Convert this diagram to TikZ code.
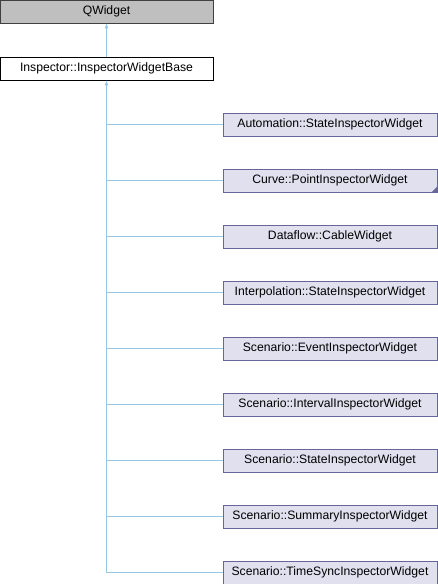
\documentclass[tikz,border=0pt]{standalone}
\usepackage{fontspec}
\setmainfont{Liberation Sans}
\usetikzlibrary{arrows.meta}
\definecolor{edgeblue}{RGB}{150,200,230}
\definecolor{childfill}{RGB}{224,224,239}
\definecolor{childdraw}{RGB}{102,102,153}
\definecolor{basefill}{RGB}{191,191,191}
\begin{document}
\begin{tikzpicture}[x=1pt,y=-1pt,
  box/.style={draw, minimum height=23pt, inner sep=0pt, font=\fontsize{12.2}{14}\selectfont, line width=0.8pt},
  topbox/.style={box, fill=basefill, draw=black!75, minimum width=213pt},
  basebox/.style={box, fill=white, draw=black, minimum width=213pt},
  childbox/.style={box, fill=childfill, draw=childdraw, minimum width=214pt},
  edge/.style={draw=edgeblue, line width=0.8pt},
  tip/.style={-{Latex[length=5pt,width=4pt]}}]
\useasboundingbox (0,0) rectangle (438,584);
\node[topbox] (qw) at (106.5,11.5) {QWidget};
\node[basebox] (ib) at (106.5,68.5) {Inspector::InspectorWidgetBase};
\node[childbox] (c1) at (330,124.5) {Automation::StateInspectorWidget};
\node[childbox] (c2) at (330,180.5) {Curve::PointInspectorWidget};
\node[childbox] (c3) at (330,236.5) {Dataflow::CableWidget};
\node[childbox] (c4) at (330,292.5) {Interpolation::StateInspectorWidget};
\node[childbox] (c5) at (330,348.5) {Scenario::EventInspectorWidget};
\node[childbox] (c6) at (330,404.5) {Scenario::IntervalInspectorWidget};
\node[childbox] (c7) at (330,460.5) {Scenario::StateInspectorWidget};
\node[childbox] (c8) at (330,516.5) {Scenario::SummaryInspectorWidget};
\node[childbox] (c9) at (330,572.5) {Scenario::TimeSyncInspectorWidget};
\fill[childdraw] (c2.south east) -- ++(-6,0) -- ++(6,-6) -- cycle;
\draw[edge,tip] (ib.north) -- (qw.south);
\coordinate (trunk) at (ib.south |- c9.west);
\draw[edge,tip] (trunk) -- (ib.south);
\foreach \c in {c1,c2,c3,c4,c5,c6,c7,c8,c9}
  \draw[edge] (ib.south |- \c.west) -- (\c.west);
\end{tikzpicture}
\end{document}
